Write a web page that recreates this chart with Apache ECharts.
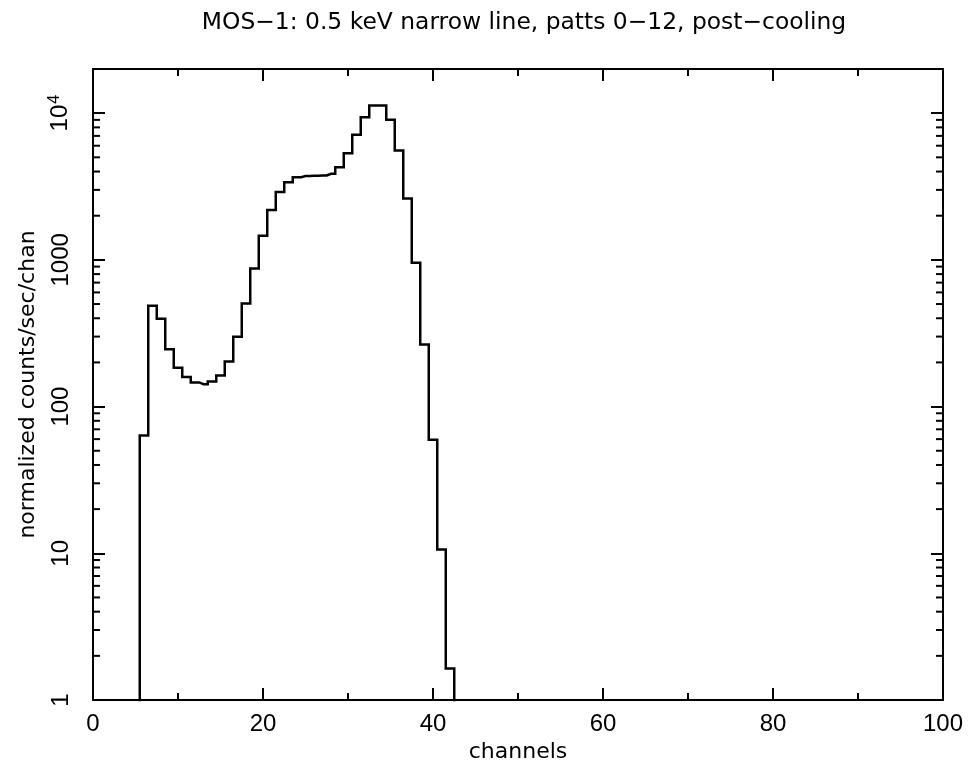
<!DOCTYPE html>
<html>
<head>
<meta charset="utf-8">
<script src="https://cdn.jsdelivr.net/npm/echarts@6/dist/echarts.min.js"></script>
<style>
html,body{margin:0;padding:0;background:#fff;}
#chart{width:971px;height:769px;}
</style>
</head>
<body>
<div id="chart"></div>
<script>
// channel numbers (bin centres) and normalized counts/sec/chan
const channels = [5, 6, 7, 8, 9, 10, 11, 12, 13, 14, 15, 16, 17, 18, 19, 20, 21, 22, 23, 24, 25, 26, 27, 28, 29, 30, 31, 32, 33, 34, 35, 36, 37, 38, 39, 40, 41, 42, 43];
// 0.01 = below the plotted range (empty bins at the edges)
const counts = [0.01, 63.6, 487, 397, 246, 184, 159, 146, 142, 148, 163, 203, 299, 505, 875, 1461, 2189, 2896, 3388, 3664, 3730, 3745, 3760, 3865, 4287, 5337, 7128, 9390, 11280, 11280, 9020, 5570, 2623, 957, 265, 59.5, 10.6, 1.64, 0.01];
const xTicks = [0, 20, 40, 60, 80, 100];
const yTickLabels = {1: '1', 10: '10', 100: '100', 1000: '1000', 10000: '{b|10}{s|4}'};
const titleText = 'MOS\u22121: 0.5 keV narrow line, patts 0\u221212, post\u2212cooling';
const xName = 'channels';
const yName = 'normalized counts/sec/chan';

const FONT = 'Liberation Sans';
const FONT2 = 'DejaVu Sans';
const minorY = [];
for (let d = 1; d <= 1000; d *= 10) {
  for (let k = 2; k <= 9; k++) minorY.push(k * d);
}
minorY.push(20000);

const chart = echarts.init(document.getElementById('chart'), null, {renderer: 'canvas'});
const axisLine = {show: true, onZero: false, lineStyle: {color: '#000', width: 2}};
const tick = {show: true, inside: true, length: 12, lineStyle: {color: '#000', width: 2}};
const minorTick = {show: true, splitNumber: 2, length: 7, lineStyle: {color: '#000', width: 2}};

chart.setOption({
  animation: false,
  backgroundColor: '#fff',
  title: {
    text: titleText,
    left: 519, textAlign: 'center', top: 6,
    textStyle: {fontFamily: FONT2, fontSize: 23.4, fontWeight: 'normal', color: '#000'}
  },
  grid: {left: 93, right: 28, top: 69, bottom: 69, containLabel: false},
  xAxis: [{
    type: 'value', min: 0, max: 100, interval: 20, position: 'bottom',
    axisLine: axisLine, axisTick: tick, minorTick: minorTick, splitLine: {show: false},
    axisLabel: {fontFamily: FONT, fontSize: 24, color: '#000', margin: 12,
      formatter: v => xTicks.includes(v) ? String(v) : ''},
    name: xName, nameLocation: 'middle', nameGap: 34,
    nameTextStyle: {fontFamily: FONT2, fontSize: 22, color: '#000'}
  }, {
    type: 'value', min: 0, max: 100, interval: 20, position: 'top',
    axisLine: axisLine, axisTick: tick, minorTick: minorTick, splitLine: {show: false},
    axisLabel: {show: false}
  }],
  yAxis: [{
    type: 'log', logBase: 10, min: 1, max: 20000, position: 'left',
    axisLine: axisLine, axisTick: tick, splitLine: {show: false},
    axisLabel: {
      fontFamily: FONT, fontSize: 24, color: '#000', rotate: 90, margin: 20,
      formatter: v => { const r = Math.round(v); return yTickLabels[r] !== undefined && Math.abs(v - r) < 1e-6 ? yTickLabels[r] : ''; },
      rich: {
        b: {fontFamily: FONT, fontSize: 24, color: '#000'},
        s: {fontFamily: FONT, fontSize: 16, color: '#000', verticalAlign: 'top', padding: [0, 0, 10, 1]}
      }
    },
    name: yName, nameLocation: 'middle', nameGap: 54,
    nameTextStyle: {fontFamily: FONT2, fontSize: 22, color: '#000'}
  }, {
    type: 'log', logBase: 10, min: 1, max: 20000, position: 'right',
    axisLine: axisLine, axisTick: tick, splitLine: {show: false},
    axisLabel: {show: false}
  }],
  series: [{
    type: 'line',
    xAxisIndex: 0, yAxisIndex: 0,
    step: 'middle',
    showSymbol: false, symbol: 'none',
    clip: true,
    lineStyle: {color: '#000', width: 2.5, join: 'miter'},
    data: channels.map((c, i) => [c, counts[i]])
  }, {
    type: 'custom',
    xAxisIndex: 0, yAxisIndex: 0,
    silent: true,
    clip: false,
    data: minorY.map(v => [0, v]),
    renderItem: function (params, api) {
      const v = api.value(1);
      const pL = api.coord([0, v]);
      const pR = api.coord([100, v]);
      const st = {stroke: '#000', lineWidth: 2};
      return {type: 'group', children: [
        {type: 'line', shape: {x1: pL[0], y1: pL[1], x2: pL[0] + 7, y2: pL[1]}, style: st},
        {type: 'line', shape: {x1: pR[0] - 7, y1: pR[1], x2: pR[0], y2: pR[1]}, style: st}
      ]};
    }
  }]
});
</script>
</body>
</html>
